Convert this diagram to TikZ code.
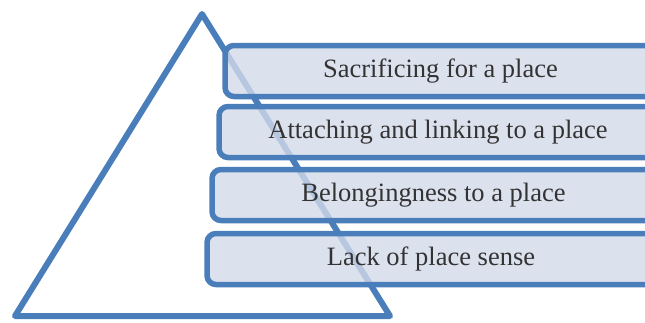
\documentclass[tikz,border=0pt]{standalone}
\usepackage{fontspec}
\setmainfont{Liberation Serif}
\definecolor{edge}{HTML}{4A7EBB}
\definecolor{boxfill}{HTML}{D3DAEA}
\definecolor{txt}{HTML}{333333}
\newcommand{\lvltext}[1]{\raisebox{-3pt}{#1}}
\begin{document}
\begin{tikzpicture}[x=1pt,y=-1pt,
  tri/.style={draw=edge,line width=6pt,line join=round},
  levelbox/.style={draw=edge,line width=5.5pt,fill=boxfill,fill opacity=0.8,draw opacity=1,
    rounded corners=9pt,text opacity=1,text=txt,font=\fontsize{26.5}{30}\selectfont,
    inner sep=0pt,anchor=center}]
\useasboundingbox (0,0) rectangle (645,322);
\coordinate (apex) at (202,14);
\coordinate (bl) at (15,316);
\coordinate (br) at (390,316);
\draw[tri] (apex) -- (bl) -- (br) -- cycle;
\node[levelbox,minimum width=431pt,minimum height=51pt] (l1) at (440.5,71) {\lvltext{Sacrificing for a place}};
\node[levelbox,minimum width=438pt,minimum height=51pt] (l2) at (438,132) {\lvltext{Attaching and linking to a place}};
\node[levelbox,minimum width=443pt,minimum height=51pt] (l3) at (433.5,195) {\lvltext{Belongingness to a place}};
\node[levelbox,minimum width=448pt,minimum height=51pt] (l4) at (431,259) {\lvltext{Lack of place sense}};
\end{tikzpicture}
\end{document}
